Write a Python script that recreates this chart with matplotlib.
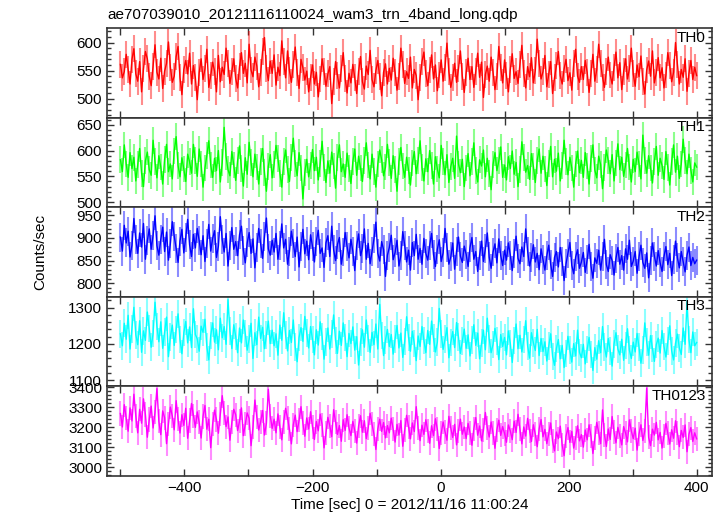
import numpy as np
import matplotlib
matplotlib.use("Agg")
import matplotlib.pyplot as plt
from matplotlib.ticker import MultipleLocator, FuncFormatter

plt.rcParams['font.family'] = ['Liberation Sans', 'DejaVu Sans']

title = "ae707039010_20121116110024_wam3_trn_4band_long.qdp"
xlabel = "Time [sec] 0 = 2012/11/16 11:00:24"
ylabel = "Counts/sec"
band_names = ["TH0", "TH1", "TH2", "TH3", "TH0123"]

time_start, time_step = -500, 3

th0 = [561, 537, 548, 579, 552, 526, 570, 589, 544, 531, 566, 512, 553, 584, 571, 540, 523, 558, 596, 547,
       535, 572, 518, 549, 563, 601, 556, 529, 540, 575, 593, 538, 507, 552, 568, 544, 581, 526, 559, 537,
       498, 546, 571, 534, 553, 588, 520, 541, 565, 549, 512, 577, 530, 556, 543, 590, 562, 527, 548, 571,
       536, 519, 557, 582, 545, 563, 528, 597, 551, 539, 574, 558, 521, 546, 584, 609, 553, 532, 567, 545,
       578, 524, 556, 541, 603, 566, 537, 585, 550, 529, 561, 592, 547, 518, 570, 555, 533, 549, 512, 538,
       560, 526, 547, 503, 535, 571, 548, 522, 544, 557, 491, 530, 566, 541, 519, 553, 582, 536, 510, 545,
       528, 561, 537, 509, 549, 575, 530, 517, 558, 543, 586, 534, 521, 550, 568, 539, 505, 547, 562, 526,
       554, 533, 572, 546, 515, 539, 590, 561, 527, 548, 536, 574, 519, 552, 541, 498, 537, 566, 583, 544,
       523, 551, 578, 535, 560, 514, 542, 569, 531, 556, 599, 548, 520, 538, 563, 529, 553, 585, 540, 511,
       546, 572, 534, 557, 520, 549, 581, 538, 565, 502, 543, 558, 531, 574, 547, 516, 539, 593, 555, 528,
       569, 541, 512, 552, 580, 536, 548, 527, 561, 595, 544, 519, 557, 539, 573, 528, 550, 606, 563, 535,
       548, 577, 521, 543, 566, 509, 537, 559, 584, 541, 526, 553, 570, 532, 546, 515, 562, 588, 540, 529,
       557, 534, 568, 547, 511, 545, 579, 531, 552, 597, 563, 538, 520, 549, 574, 542, 526, 556, 583, 537,
       564, 516, 548, 571, 535, 553, 590, 544, 522, 560, 539, 576, 531, 508, 551, 567, 540, 585, 528, 546,
       573, 537, 555, 519, 542, 582, 559, 530, 547, 600, 561, 526, 552, 538, 571, 513, 545, 568, 534, 556,
       541]

th1 = [582, 559, 611, 574, 548, 596, 565, 587, 541, 573, 604, 556, 530, 580, 597, 563, 552, 620, 578, 547,
       590, 568, 535, 583, 612, 559, 574, 545, 599, 627, 571, 549, 586, 564, 540, 593, 578, 556, 612, 581,
       550, 603, 574, 529, 566, 591, 619, 572, 548, 585, 561, 600, 539, 577, 645, 588, 563, 551, 598, 572,
       542, 580, 609, 565, 531, 586, 554, 616, 577, 549, 593, 568, 535, 579, 604, 557, 521, 569, 592, 547,
       573, 610, 584, 556, 529, 578, 601, 563, 540, 587, 624, 575, 551, 596, 566, 506, 558, 583, 549, 571,
       602, 561, 587, 543, 575, 618, 567, 538, 580, 556, 597, 570, 527, 586, 611, 559, 574, 548, 595, 565,
       536, 578, 603, 552, 589, 566, 540, 581, 615, 572, 545, 593, 560, 529, 574, 601, 582, 551, 568, 612,
       577, 546, 590, 563, 521, 579, 606, 570, 548, 587, 562, 533, 576, 598, 555, 581, 619, 567, 541, 584,
       559, 600, 571, 535, 588, 564, 547, 610, 579, 553, 592, 538, 569, 585, 546, 628, 574, 557, 583, 530,
       566, 594, 551, 578, 615, 562, 539, 582, 570, 601, 549, 585, 556, 524, 573, 596, 561, 580, 607, 548,
       572, 543, 588, 565, 599, 554, 577, 530, 563, 617, 586, 558, 571, 544, 594, 569, 538, 581, 603, 556,
       589, 564, 532, 575, 608, 549, 583, 560, 595, 541, 571, 620, 578, 553, 587, 566, 529, 574, 599, 557,
       581, 548, 596, 570, 535, 584, 611, 562, 547, 589, 573, 526, 567, 601, 580, 555, 592, 541, 576, 613,
       563, 587, 550, 572, 604, 568, 539, 583, 559, 597, 574, 545, 630, 581, 556, 590, 566, 537, 579, 608,
       552, 585, 571, 544, 598, 567, 533, 578, 611, 558, 589, 546, 574, 622, 580, 555, 593, 562, 539, 576,
       568]

th2 = [902, 871, 928, 889, 915, 858, 884, 943, 897, 866, 911, 880, 932, 853, 894, 920, 875, 906, 949, 883,
       862, 897, 924, 870, 913, 851, 888, 936, 904, 877, 846, 893, 919, 867, 901, 941, 885, 859, 908, 878,
       921, 894, 863, 905, 848, 887, 930, 871, 899, 916, 857, 882, 947, 896, 869, 910, 838, 884, 923, 875,
       892, 861, 907, 926, 873, 845, 889, 912, 866, 898, 834, 879, 921, 887, 855, 903, 944, 876, 862, 895,
       869, 910, 853, 884, 931, 878, 897, 842, 870, 915, 888, 859, 902, 836, 881, 919, 865, 893, 852, 907,
       881, 847, 893, 917, 866, 878, 835, 889, 905, 859, 926, 874, 850, 886, 901, 842, 869, 912, 881, 856,
       897, 870, 828, 883, 909, 861, 877, 920, 853, 888, 843, 871, 898, 935, 866, 849, 892, 874, 815, 862,
       879, 906, 852, 868, 895, 838, 861, 914, 884, 847, 873, 829, 890, 861, 908, 853, 877, 842, 899, 866,
       851, 884, 910, 863, 837, 875, 896, 848, 867, 921, 880, 842, 858, 889, 831, 871, 902, 860, 846, 882,
       864, 837, 879, 901, 853, 870, 826, 862, 893, 848, 876, 911, 858, 833, 869, 887, 845, 898, 861, 839,
       873, 851, 889, 862, 828, 866, 904, 855, 843, 880, 859, 920, 871, 838, 857, 885, 847, 866, 830, 876,
       852, 829, 861, 884, 842, 815, 857, 870, 836, 879, 848, 806, 843, 866, 890, 839, 821, 858, 874, 833,
       847, 868, 824, 852, 886, 838, 811, 856, 844, 873, 829, 860, 897, 841, 826, 863, 850, 818, 855, 879,
       842, 861, 829, 876, 853, 895, 837, 849, 870, 822, 858, 884, 846, 833, 867, 812, 851, 889, 860, 838,
       872, 845, 826, 859, 881, 841, 866, 817, 852, 893, 856, 834, 870, 848, 825, 862, 880, 839, 857, 843,
       851]

th3 = [1228, 1195, 1257, 1213, 1279, 1186, 1242, 1301, 1225, 1198, 1264, 1177, 1236, 1210, 1288, 1243, 1191, 1229, 1315, 1248,
       1206, 1261, 1188, 1233, 1274, 1165, 1219, 1252, 1196, 1240, 1283, 1212, 1173, 1231, 1262, 1203, 1247, 1190, 1297, 1226,
       1214, 1180, 1249, 1232, 1268, 1192, 1156, 1223, 1258, 1205, 1239, 1184, 1271, 1217, 1248, 1199, 1322, 1236, 1187, 1253,
       1221, 1176, 1244, 1203, 1266, 1229, 1183, 1213, 1257, 1160, 1231, 1198, 1274, 1215, 1246, 1187, 1225, 1263, 1201, 1238,
       1195, 1228, 1169, 1252, 1210, 1286, 1224, 1181, 1237, 1204, 1266, 1192, 1151, 1218, 1245, 1207, 1276, 1230, 1189, 1248,
       1212, 1170, 1239, 1197, 1261, 1221, 1158, 1205, 1244, 1186, 1227, 1280, 1209, 1174, 1235, 1196, 1258, 1218, 1165, 1229,
       1201, 1247, 1183, 1220, 1142, 1206, 1239, 1191, 1266, 1215, 1177, 1232, 1198, 1255, 1186, 1309, 1223, 1168, 1211, 1240,
       1193, 1226, 1172, 1214, 1251, 1189, 1230, 1163, 1207, 1275, 1218, 1180, 1235, 1201, 1154, 1222, 1193, 1248, 1210, 1176,
       1237, 1199, 1263, 1216, 1178, 1205, 1298, 1227, 1185, 1213, 1245, 1162, 1204, 1234, 1190, 1259, 1219, 1174, 1208, 1241,
       1188, 1225, 1167, 1211, 1253, 1196, 1230, 1159, 1202, 1238, 1184, 1271, 1214, 1176, 1199, 1243, 1208, 1157, 1226, 1193,
       1218, 1170, 1236, 1201, 1149, 1209, 1255, 1187, 1224, 1178, 1212, 1264, 1195, 1161, 1231, 1203, 1182, 1240, 1168, 1215,
       1179, 1206, 1153, 1194, 1228, 1166, 1141, 1188, 1212, 1159, 1196, 1135, 1174, 1221, 1183, 1150, 1201, 1167, 1238, 1177,
       1162, 1199, 1145, 1185, 1218, 1171, 1127, 1190, 1158, 1209, 1176, 1248, 1192, 1164, 1215, 1181, 1139, 1200, 1231, 1186,
       1170, 1213, 1155, 1196, 1242, 1183, 1160, 1205, 1178, 1229, 1191, 1147, 1184, 1258, 1206, 1169, 1223, 1187, 1152, 1198,
       1216, 1175, 1237, 1193, 1164, 1208, 1250, 1181, 1156, 1202, 1227, 1189, 1171, 1244, 1199, 1316, 1212, 1176, 1233, 1195,
       1204]

th0123 = [3268, 3201, 3312, 3245, 3180, 3296, 3231, 3364, 3257, 3172, 3289, 3220, 3341, 3263, 3150, 3238, 3305, 3196, 3275, 3392,
          3229, 3163, 3281, 3247, 3118, 3216, 3300, 3255, 3187, 3332, 3240, 3171, 3262, 3209, 3294, 3145, 3233, 3318, 3257, 3199,
          3276, 3224, 3146, 3253, 3308, 3190, 3240, 3098, 3216, 3285, 3238, 3170, 3264, 3357, 3272, 3203, 3251, 3135, 3224, 3289,
          3262, 3183, 3230, 3296, 3158, 3214, 3271, 3244, 3108, 3199, 3335, 3251, 3186, 3227, 3283, 3161, 3219, 3388, 3257, 3194,
          3240, 3172, 3266, 3203, 3137, 3228, 3294, 3245, 3189, 3117, 3212, 3260, 3178, 3234, 3302, 3220, 3155, 3246, 3191, 3277,
          3201, 3139, 3228, 3182, 3265, 3213, 3097, 3170, 3249, 3206, 3153, 3287, 3224, 3164, 3208, 3130, 3237, 3184, 3262, 3195,
          3158, 3229, 3183, 3121, 3206, 3257, 3175, 3232, 3143, 3197, 3269, 3214, 3165, 3089, 3191, 3240, 3179, 3223, 3147, 3208,
          3172, 3245, 3190, 3126, 3214, 3161, 3233, 3105, 3186, 3259, 3200, 3142, 3221, 3178, 3302, 3194, 3133, 3210, 3164, 3237,
          3181, 3120, 3207, 3158, 3242, 3189, 3094, 3169, 3226, 3177, 3135, 3254, 3196, 3149, 3214, 3112, 3183, 3240, 3165, 3201,
          3143, 3219, 3172, 3110, 3193, 3248, 3160, 3206, 3132, 3184, 3273, 3197, 3151, 3226, 3170, 3095, 3187, 3235, 3159, 3203,
          3168, 3125, 3211, 3181, 3138, 3230, 3174, 3264, 3192, 3117, 3201, 3156, 3244, 3183, 3129, 3212, 3165, 3103, 3190, 3238,
          3152, 3189, 3118, 3167, 3221, 3130, 3082, 3176, 3143, 3205, 3111, 3058, 3155, 3198, 3124, 3179, 3096, 3148, 3207, 3132,
          3163, 3101, 3186, 3137, 3212, 3154, 3069, 3145, 3224, 3173, 3118, 3286, 3162, 3104, 3191, 3139, 3253, 3176, 3122, 3199,
          3158, 3112, 3203, 3170, 3127, 3236, 3181, 3143, 3195, 3086, 3166, 3212, 3134, 3181, 3395, 3149, 3108, 3190, 3161, 3224,
          3137, 3174, 3096, 3158, 3219, 3169, 3116, 3187, 3145, 3232, 3170, 3103, 3184, 3149, 3211, 3078, 3165, 3198, 3129, 3172,
          3142]

# typical 1-sigma error bar size per band
errors = [24, 26, 32, 38, 60]

series = [th0, th1, th2, th3, th0123]
colors = ["#ff0000", "#00ff00", "#0000ff", "#00ffff", "#ff00ff"]
ylims = [(466, 626), (490, 664), (770, 968), (1083, 1330), (2957, 3403)]
ymajor = [50, 50, 50, 100, 100]
yminor = [10, 10, 10, 20, 20]

W, H = 723, 516
fig, axes = plt.subplots(5, 1, figsize=(W / 100, H / 100), dpi=100, sharex=True)
fig.subplots_adjust(left=107 / W, right=712 / W, top=1 - 28 / H, bottom=1 - 476 / H, hspace=0)

for ax, name, vals, err, col, yl, ymj, ymn in zip(axes, band_names, series, errors, colors, ylims, ymajor, yminor):
    t = time_start + time_step * np.arange(len(vals))
    ax.errorbar(t, vals, yerr=err, fmt='none', ecolor=col, alpha=0.45, elinewidth=1.5)
    ax.plot(t, vals, color=col, lw=1.0)
    ax.set_ylim(*yl)
    ax.set_xlim(-521, 424)
    ax.yaxis.set_major_locator(MultipleLocator(ymj))
    ax.yaxis.set_minor_locator(MultipleLocator(ymn))
    ax.xaxis.set_major_locator(MultipleLocator(100))
    ax.tick_params(axis='both', which='both', direction='in', top=True, right=True,
                   labelsize=11, width=1.0, color='#333333')
    ax.tick_params(axis='both', which='major', length=5)
    ax.tick_params(axis='y', which='minor', length=3)
    for s in ax.spines.values():
        s.set_linewidth(1.2)
        s.set_color('#333333')
    ax.text(0.99, 0.97, name, transform=ax.transAxes, ha='right', va='top', fontsize=11)

axes[-1].xaxis.set_major_formatter(FuncFormatter(lambda v, p: ("%d" % v).replace('-', '\u2212') if int(round(v)) % 200 == 0 else ""))
axes[-1].set_xlabel(xlabel, fontsize=11, labelpad=2)
fig.text(40 / W, 0.5 * ((1 - 28 / H) + (1 - 476 / H)), ylabel, rotation=90, ha='center', va='center', fontsize=11)
fig.text(107 / W, 1 - 15 / H, title, ha='left', va='center', fontsize=11)

fig.savefig("out.png", dpi=100)
